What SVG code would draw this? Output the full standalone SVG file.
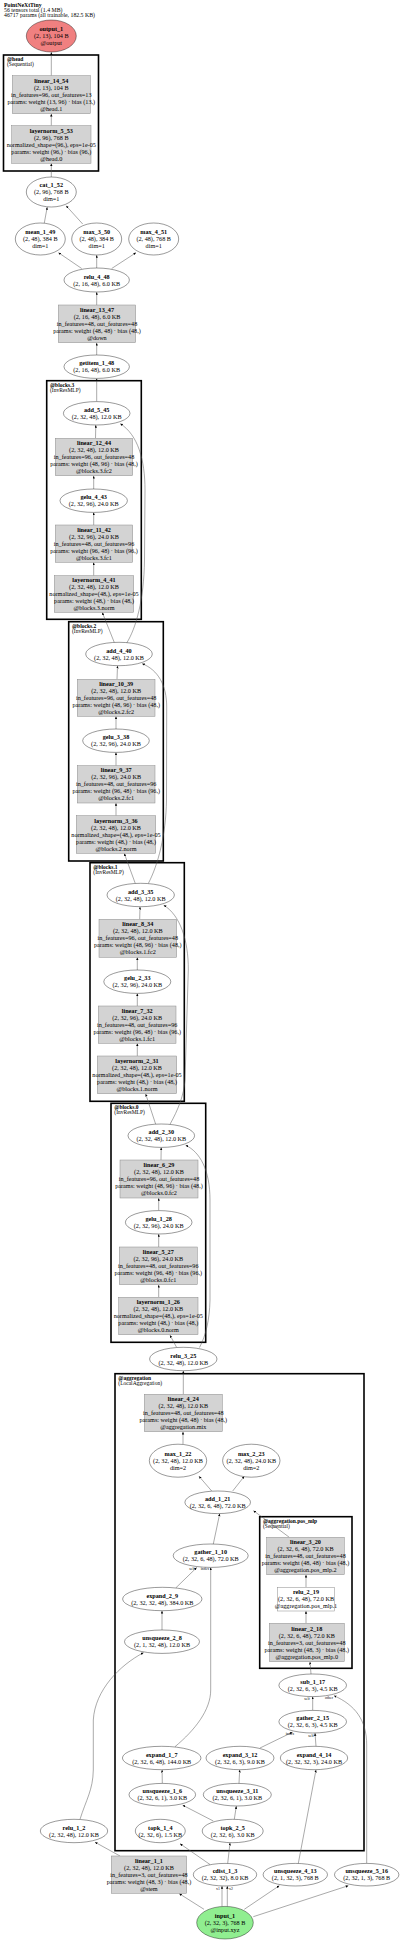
<svg xmlns="http://www.w3.org/2000/svg" width="400" height="1942" viewBox="0 0 400 1942">
<style>
text{font-family:"Liberation Serif","Times New Roman",serif;font-size:6.2px;fill:#000;text-anchor:middle}
.b{font-weight:bold}
.hd{font-size:5.5px;text-anchor:start}
.tt{font-size:5.8px}
.el{font-size:3.8px}
ellipse{fill:#fff;stroke:#000;stroke-width:0.4}
rect.m{fill:#d3d3d3;stroke:#8a8a8a;stroke-width:0.5}
rect.w{fill:#fff;stroke:#8a8a8a;stroke-width:0.5}
rect.c{fill:none;stroke:#000;stroke-width:1.6}
#edges path{fill:none;stroke:#555;stroke-width:0.5;marker-end:url(#ah)}
</style>
<defs>
<marker id="ah" markerUnits="userSpaceOnUse" markerWidth="4" markerHeight="4" refX="2.6" refY="1.2" orient="auto">
<path d="M0,0 L2.6,1.2 L0,2.4 Z" fill="#000"/>
</marker>
</defs>
<rect width="400" height="1942" fill="#fff"/>
<g id="title">
<text class="hd tt b" x="4" y="6.7">PointNeXtTiny</text>
<text class="hd tt" x="4" y="11.7">56 tensors total (1.4 MB)</text>
<text class="hd tt" x="4" y="16.7">46717 params (all trainable, 182.5 KB)</text>
</g>
<g id="clusters">
<g id="cl_head"><rect class="c" x="3.5" y="55" width="95" height="116"/><text class="hd b" x="7" y="61">@head</text><text class="hd" x="7" y="66">(Sequential)</text></g>
<g id="cl_blocks3"><rect class="c" x="46.7" y="380.7" width="94.6" height="238.6"/><text class="hd b" x="50" y="386.7">@blocks.3</text><text class="hd" x="50" y="391.7">(InvResMLP)</text></g>
<g id="cl_blocks2"><rect class="c" x="68.7" y="621.7" width="94.6" height="239.3"/><text class="hd b" x="72" y="627.7">@blocks.2</text><text class="hd" x="72" y="632.7">(InvResMLP)</text></g>
<g id="cl_blocks1"><rect class="c" x="90" y="862.7" width="94.3" height="238.6"/><text class="hd b" x="93.3" y="868.7">@blocks.1</text><text class="hd" x="93.3" y="873.7">(InvResMLP)</text></g>
<g id="cl_blocks0"><rect class="c" x="111" y="1103.3" width="94.7" height="239"/><text class="hd b" x="114.3" y="1109.3">@blocks.0</text><text class="hd" x="114.3" y="1114.3">(InvResMLP)</text></g>
<g id="cl_aggregation"><rect class="c" x="115" y="1373.7" width="249" height="477"/><text class="hd b" x="118.3" y="1379.7">@aggregation</text><text class="hd" x="118.3" y="1384.7">(LocalAggregation)</text></g>
<g id="cl_pos_mlp"><rect class="c" x="259.7" y="1516.7" width="92.3" height="151.6"/><text class="hd b" x="263" y="1522.7">@aggregation.pos_mlp</text><text class="hd" x="263" y="1527.7">(Sequential)</text></g>
</g>
<g id="edges">
<path d="M51.3 75.7 L51.3 52.3"/>
<path d="M51.3 125.7 L51.3 113.9"/>
<path d="M51.3 177 L51.3 163.5"/>
<path d="M44.3 223 L47.2 207.2"/>
<path d="M82.7 224 L66.2 205.8"/>
<path d="M81.7 268.5 L58.5 252.7"/>
<path d="M96.7 268 L96.7 255.2"/>
<path d="M111.7 268.5 L136 252.7"/>
<path d="M96.7 305 L96.7 292.2"/>
<path d="M96.7 355 L96.7 342.9"/>
<path d="M96.7 401.6 L96.7 378.6"/>
<path d="M95.5 438.3 L95.8 425.2"/>
<path d="M93.7 489 L93.7 475.9"/>
<path d="M93.7 525 L93.7 512.6"/>
<path d="M93.7 575.7 L93.7 562.5"/>
<path d="M114.3 642.5 L102.3 612.5"/>
<path d="M126.7 643 C136 628 144 600 144.5 560 L145 490 C145 460 138 435 120.3 423.7"/>
<path d="M117 679.3 L117.5 665.9"/>
<path d="M116 729 L116 716.5"/>
<path d="M116 765.7 L116 752.6"/>
<path d="M116 815.7 L116 803.2"/>
<path d="M135.3 883.5 L124.3 853.5"/>
<path d="M148.3 883.5 C158 865 166 835 166.5 800 L166.7 707 C166.7 685 158 670 142.2 663.7"/>
<path d="M139.7 919.3 L140 906.9"/>
<path d="M137.3 970 L137.3 957.5"/>
<path d="M137.3 1006 L137.3 993.6"/>
<path d="M137.3 1056 L137.3 1043.5"/>
<path d="M155.7 1124.3 L145.7 1094"/>
<path d="M170 1124.3 C178 1110 184 1095 185 1080 L188.3 970 C188.5 940 180 915 163.7 905.2"/>
<path d="M161 1160 L161.2 1147.6"/>
<path d="M158.7 1210.6 L158.7 1198.2"/>
<path d="M158.7 1247 L158.7 1234.2"/>
<path d="M158.7 1297.3 L158.7 1284.9"/>
<path d="M176.7 1347.5 L170 1335.2"/>
<path d="M199.5 1347.5 C206 1335 209.5 1320 210 1300 L210 1200 C210 1170 200 1152 185.7 1145.3"/>
<path d="M183.3 1394.3 L183.3 1370.9"/>
<path d="M183 1444.3 L183 1431.9"/>
<path d="M211.7 1491 L199 1476.3"/>
<path d="M232.7 1491 L244.3 1476.3"/>
<path d="M289.3 1537.3 L253.5 1510.7"/>
<path d="M213.3 1544 L219.7 1513.8"/>
<path d="M175.7 1588 L196.7 1567.6"/>
<path d="M175 1746.7 C195 1730 210.7 1710 210.7 1690 L210.7 1567.6"/>
<path d="M306 1587.3 L306 1574.9"/>
<path d="M306 1623.3 L306 1611.2"/>
<path d="M162 1630 L162 1610.9"/>
<path d="M311 1674 L310 1661.9"/>
<path d="M312.7 1710.4 L312.7 1696.8"/>
<path d="M260 1748 L292.5 1732.2"/>
<path d="M316 1746.3 L315 1733.2"/>
<path d="M80 1819.3 C86 1800 93 1790 93.3 1770 L93.3 1720 C95 1690 120 1665 143.5 1652.7"/>
<path d="M366.7 1863.4 L366.7 1745 C366.7 1720 355 1705 334 1695.7"/>
<path d="M162.3 1783.4 L162.1 1769.9"/>
<path d="M239 1783.4 L239.7 1769.9"/>
<path d="M298.3 1863.4 L316 1769.9"/>
<path d="M213.3 1821 L182.7 1805.2"/>
<path d="M234.3 1819.3 L236.3 1806.2"/>
<path d="M120 1856 L95 1842.2"/>
<path d="M210 1864.5 L180 1843.7"/>
<path d="M227.7 1863.4 L230 1842.9"/>
<path d="M222 1906.4 L222 1886.2"/>
<path d="M227.3 1906.4 L227.3 1886.2"/>
<path d="M204 1909.3 L179.3 1893.7"/>
<path d="M244.3 1909.3 L279.3 1885.7"/>
<path d="M253.3 1916.7 L348.3 1885.7"/>
<text class="el" x="192" y="1570">self</text>
<text class="el" x="205" y="1570">index</text>
<text class="el" x="307" y="1700">self</text>
<text class="el" x="329" y="1698.5">other</text>
<text class="el" x="290" y="1735">index</text>
<text class="el" x="311" y="1736.5">self</text>
<text class="el" x="218" y="1889.5">x1</text>
<text class="el" x="231" y="1889.5">x2</text>
</g>
<g id="output_1"><ellipse cx="51.3" cy="36" rx="25" ry="16" style="fill:#f08080"/><text class="b" x="51.3" y="31">output_1</text><text x="51.3" y="38">(2, 13), 104 B</text><text x="51.3" y="45">@output</text></g>
<g id="linear_14_54"><rect class="m" x="12.3" y="75.7" width="78" height="38"/><text class="b" x="51.3" y="82.5">linear_14_54</text><text x="51.3" y="89.5">(2, 13), 104 B</text><text x="51.3" y="96.5">in_features=96, out_features=13</text><text x="51.3" y="103.5">params: weight (13, 96) · bias (13,)</text><text x="51.3" y="110.5">@head.1</text></g>
<g id="layernorm_5_53"><rect class="m" x="11.7" y="125.7" width="79.3" height="37.6"/><text class="b" x="51.3" y="132.5">layernorm_5_53</text><text x="51.3" y="139.5">(2, 96), 768 B</text><text x="51.3" y="146.5">normalized_shape=(96,), eps=1e-05</text><text x="51.3" y="153.5">params: weight (96,) · bias (96,)</text><text x="51.3" y="160.5">@head.0</text></g>
<g id="cat_1_52"><ellipse cx="51.3" cy="192" rx="25" ry="15"/><text class="b" x="51.3" y="187">cat_1_52</text><text x="51.3" y="194">(2, 96), 768 B</text><text x="51.3" y="201">dim=1</text></g>
<g id="mean_1_49"><ellipse cx="40.3" cy="239" rx="25" ry="16"/><text class="b" x="40.3" y="234">mean_1_49</text><text x="40.3" y="241">(2, 48), 384 B</text><text x="40.3" y="248">dim=1</text></g>
<g id="max_3_50"><ellipse cx="96.7" cy="239" rx="25" ry="16"/><text class="b" x="96.7" y="234">max_3_50</text><text x="96.7" y="241">(2, 48), 384 B</text><text x="96.7" y="248">dim=1</text></g>
<g id="max_4_51"><ellipse cx="153.7" cy="239" rx="25" ry="16"/><text class="b" x="153.7" y="234">max_4_51</text><text x="153.7" y="241">(2, 48), 768 B</text><text x="153.7" y="248">dim=1</text></g>
<g id="relu_4_48"><ellipse cx="96.7" cy="280" rx="32.7" ry="12"/><text class="b" x="96.7" y="278.5">relu_4_48</text><text x="96.7" y="285.5">(2, 16, 48), 6.0 KB</text></g>
<g id="linear_13_47"><rect class="m" x="58.3" y="305" width="77.4" height="37.7"/><text class="b" x="97" y="311.8">linear_13_47</text><text x="97" y="318.8">(2, 16, 48), 6.0 KB</text><text x="97" y="325.8">in_features=48, out_features=48</text><text x="97" y="332.8">params: weight (48, 48) · bias (48,)</text><text x="97" y="339.8">@down</text></g>
<g id="getitem_1_48"><ellipse cx="96.7" cy="366.7" rx="32.7" ry="11.7"/><text class="b" x="96.7" y="365.2">getitem_1_48</text><text x="96.7" y="372.2">(2, 16, 48), 6.0 KB</text></g>
<g id="add_5_45"><ellipse cx="96.7" cy="413.3" rx="33.3" ry="11.7"/><text class="b" x="96.7" y="411.8">add_5_45</text><text x="96.7" y="418.8">(2, 32, 48), 12.0 KB</text></g>
<g id="linear_12_44"><rect class="m" x="55.3" y="438.3" width="77.4" height="37.4"/><text class="b" x="94" y="445">linear_12_44</text><text x="94" y="452">(2, 32, 48), 12.0 KB</text><text x="94" y="459">in_features=96, out_features=48</text><text x="94" y="466">params: weight (48, 96) · bias (48,)</text><text x="94" y="473">@blocks.3.fc2</text></g>
<g id="gelu_4_43"><ellipse cx="93.7" cy="500.7" rx="33.7" ry="11.7"/><text class="b" x="93.7" y="499.2">gelu_4_43</text><text x="93.7" y="506.2">(2, 32, 96), 24.0 KB</text></g>
<g id="linear_11_42"><rect class="m" x="55.3" y="525" width="77.4" height="37.3"/><text class="b" x="94" y="531.7">linear_11_42</text><text x="94" y="538.7">(2, 32, 96), 24.0 KB</text><text x="94" y="545.7">in_features=48, out_features=96</text><text x="94" y="552.7">params: weight (96, 48) · bias (96,)</text><text x="94" y="559.7">@blocks.3.fc1</text></g>
<g id="layernorm_4_41"><rect class="m" x="54.3" y="575.7" width="79.4" height="36.6"/><text class="b" x="94" y="582">layernorm_4_41</text><text x="94" y="589">(2, 32, 48), 12.0 KB</text><text x="94" y="596">normalized_shape=(48,), eps=1e-05</text><text x="94" y="603">params: weight (48,) · bias (48,)</text><text x="94" y="610">@blocks.3.norm</text></g>
<g id="add_4_40"><ellipse cx="119" cy="654" rx="33.3" ry="11.7"/><text class="b" x="119" y="652.5">add_4_40</text><text x="119" y="659.5">(2, 32, 48), 12.0 KB</text></g>
<g id="linear_10_39"><rect class="m" x="77.3" y="679.3" width="77.7" height="37"/><text class="b" x="116.2" y="685.8">linear_10_39</text><text x="116.2" y="692.8">(2, 32, 48), 12.0 KB</text><text x="116.2" y="699.8">in_features=96, out_features=48</text><text x="116.2" y="706.8">params: weight (48, 96) · bias (48,)</text><text x="116.2" y="713.8">@blocks.2.fc2</text></g>
<g id="gelu_3_38"><ellipse cx="116" cy="740.7" rx="33.3" ry="11.7"/><text class="b" x="116" y="739.2">gelu_3_38</text><text x="116" y="746.2">(2, 32, 96), 24.0 KB</text></g>
<g id="linear_9_37"><rect class="m" x="77.3" y="765.7" width="77.7" height="37.3"/><text class="b" x="116.2" y="772.3">linear_9_37</text><text x="116.2" y="779.3">(2, 32, 96), 24.0 KB</text><text x="116.2" y="786.3">in_features=48, out_features=96</text><text x="116.2" y="793.3">params: weight (96, 48) · bias (96,)</text><text x="116.2" y="800.3">@blocks.2.fc1</text></g>
<g id="layernorm_3_36"><rect class="m" x="76.3" y="815.7" width="79.4" height="37.6"/><text class="b" x="116" y="822.5">layernorm_3_36</text><text x="116" y="829.5">(2, 32, 48), 12.0 KB</text><text x="116" y="836.5">normalized_shape=(48,), eps=1e-05</text><text x="116" y="843.5">params: weight (48,) · bias (48,)</text><text x="116" y="850.5">@blocks.2.norm</text></g>
<g id="add_3_35"><ellipse cx="140.7" cy="895" rx="33.7" ry="11.7"/><text class="b" x="140.7" y="893.5">add_3_35</text><text x="140.7" y="900.5">(2, 32, 48), 12.0 KB</text></g>
<g id="linear_8_34"><rect class="m" x="99" y="919.3" width="77.7" height="38"/><text class="b" x="137.8" y="926.3">linear_8_34</text><text x="137.8" y="933.3">(2, 32, 48), 12.0 KB</text><text x="137.8" y="940.3">in_features=96, out_features=48</text><text x="137.8" y="947.3">params: weight (48, 96) · bias (48,)</text><text x="137.8" y="954.3">@blocks.1.fc2</text></g>
<g id="gelu_2_33"><ellipse cx="137.3" cy="981.7" rx="33.5" ry="11.7"/><text class="b" x="137.3" y="980.2">gelu_2_33</text><text x="137.3" y="987.2">(2, 32, 96), 24.0 KB</text></g>
<g id="linear_7_32"><rect class="m" x="98.3" y="1006" width="77.7" height="37.3"/><text class="b" x="137.2" y="1012.7">linear_7_32</text><text x="137.2" y="1019.7">(2, 32, 96), 24.0 KB</text><text x="137.2" y="1026.7">in_features=48, out_features=96</text><text x="137.2" y="1033.7">params: weight (96, 48) · bias (96,)</text><text x="137.2" y="1040.7">@blocks.1.fc1</text></g>
<g id="layernorm_2_31"><rect class="m" x="97.3" y="1056" width="79.4" height="37.7"/><text class="b" x="137" y="1062.8">layernorm_2_31</text><text x="137" y="1069.8">(2, 32, 48), 12.0 KB</text><text x="137" y="1076.8">normalized_shape=(48,), eps=1e-05</text><text x="137" y="1083.8">params: weight (48,) · bias (48,)</text><text x="137" y="1090.8">@blocks.1.norm</text></g>
<g id="add_2_30"><ellipse cx="161.3" cy="1135.7" rx="33.3" ry="11.7"/><text class="b" x="161.3" y="1134.2">add_2_30</text><text x="161.3" y="1141.2">(2, 32, 48), 12.0 KB</text></g>
<g id="linear_6_29"><rect class="m" x="120" y="1160" width="78" height="38"/><text class="b" x="159" y="1167">linear_6_29</text><text x="159" y="1174">(2, 32, 48), 12.0 KB</text><text x="159" y="1181">in_features=96, out_features=48</text><text x="159" y="1188">params: weight (48, 96) · bias (48,)</text><text x="159" y="1195">@blocks.0.fc2</text></g>
<g id="gelu_1_28"><ellipse cx="158.7" cy="1222.3" rx="33.3" ry="11.7"/><text class="b" x="158.7" y="1220.8">gelu_1_28</text><text x="158.7" y="1227.8">(2, 32, 96), 24.0 KB</text></g>
<g id="linear_5_27"><rect class="m" x="119.3" y="1247" width="78" height="37.7"/><text class="b" x="158.3" y="1253.8">linear_5_27</text><text x="158.3" y="1260.8">(2, 32, 96), 24.0 KB</text><text x="158.3" y="1267.8">in_features=48, out_features=96</text><text x="158.3" y="1274.8">params: weight (96, 48) · bias (96,)</text><text x="158.3" y="1281.8">@blocks.0.fc1</text></g>
<g id="layernorm_1_26"><rect class="m" x="118.7" y="1297.3" width="79.3" height="37.4"/><text class="b" x="158.3" y="1304">layernorm_1_26</text><text x="158.3" y="1311">(2, 32, 48), 12.0 KB</text><text x="158.3" y="1318">normalized_shape=(48,), eps=1e-05</text><text x="158.3" y="1325">params: weight (48,) · bias (48,)</text><text x="158.3" y="1332">@blocks.0.norm</text></g>
<g id="relu_3_25"><ellipse cx="183.3" cy="1359" rx="33.7" ry="11.7"/><text class="b" x="183.3" y="1357.5">relu_3_25</text><text x="183.3" y="1364.5">(2, 32, 48), 12.0 KB</text></g>
<g id="linear_4_24"><rect class="m" x="144.3" y="1394.3" width="78" height="37.4"/><text class="b" x="183.3" y="1401">linear_4_24</text><text x="183.3" y="1408">(2, 32, 48), 12.0 KB</text><text x="183.3" y="1415">in_features=48, out_features=48</text><text x="183.3" y="1422">params: weight (48, 48) · bias (48,)</text><text x="183.3" y="1429">@aggregation.mix</text></g>
<g id="max_1_22"><ellipse cx="178" cy="1460.7" rx="28.7" ry="16.5"/><text class="b" x="178" y="1455.7">max_1_22</text><text x="178" y="1462.7">(2, 32, 48), 12.0 KB</text><text x="178" y="1469.7">dim=2</text></g>
<g id="max_2_23"><ellipse cx="251.3" cy="1460.7" rx="28.7" ry="16.5"/><text class="b" x="251.3" y="1455.7">max_2_23</text><text x="251.3" y="1462.7">(2, 32, 48), 24.0 KB</text><text x="251.3" y="1469.7">dim=2</text></g>
<g id="add_1_21"><ellipse cx="217.7" cy="1502.3" rx="32.8" ry="11.3"/><text class="b" x="217.7" y="1500.8">add_1_21</text><text x="217.7" y="1507.8">(2, 32, 6, 48), 72.0 KB</text></g>
<g id="linear_3_20"><rect class="m" x="266.7" y="1537.3" width="77.6" height="37.4"/><text class="b" x="305.5" y="1544">linear_3_20</text><text x="305.5" y="1551">(2, 32, 6, 48), 72.0 KB</text><text x="305.5" y="1558">in_features=48, out_features=48</text><text x="305.5" y="1565">params: weight (48, 48) · bias (48,)</text><text x="305.5" y="1572">@aggregation.pos_mlp.2</text></g>
<g id="gather_1_10"><ellipse cx="210.7" cy="1555.7" rx="37.5" ry="11.7"/><text class="b" x="210.7" y="1554.2">gather_1_10</text><text x="210.7" y="1561.2">(2, 32, 6, 48), 72.0 KB</text></g>
<g id="expand_2_9"><ellipse cx="162.3" cy="1599" rx="39.7" ry="11.7"/><text class="b" x="162.3" y="1597.5">expand_2_9</text><text x="162.3" y="1604.5">(2, 32, 32, 48), 384.0 KB</text></g>
<g id="relu_2_19"><rect class="w" x="277.7" y="1587.3" width="56.6" height="23.7"/><text class="b" x="306" y="1594.2">relu_2_19</text><text x="306" y="1601.2">(2, 32, 6, 48), 72.0 KB</text><text x="306" y="1608.2">@aggregation.pos_mlp.1</text></g>
<g id="linear_2_18"><rect class="m" x="269.3" y="1623.3" width="75" height="38.4"/><text class="b" x="306.8" y="1630.5">linear_2_18</text><text x="306.8" y="1637.5">(2, 32, 6, 48), 72.0 KB</text><text x="306.8" y="1644.5">in_features=3, out_features=48</text><text x="306.8" y="1651.5">params: weight (48, 3) · bias (48,)</text><text x="306.8" y="1658.5">@aggregation.pos_mlp.0</text></g>
<g id="unsqueeze_2_8"><ellipse cx="162" cy="1641.7" rx="37.5" ry="11.7"/><text class="b" x="162" y="1640.2">unsqueeze_2_8</text><text x="162" y="1647.2">(2, 1, 32, 48), 12.0 KB</text></g>
<g id="sub_1_17"><ellipse cx="312.7" cy="1685.3" rx="33.8" ry="11.3"/><text class="b" x="312.7" y="1683.8">sub_1_17</text><text x="312.7" y="1690.8">(2, 32, 6, 3), 4.5 KB</text></g>
<g id="gather_2_15"><ellipse cx="312.7" cy="1721.7" rx="33.8" ry="11.3"/><text class="b" x="312.7" y="1720.2">gather_2_15</text><text x="312.7" y="1727.2">(2, 32, 6, 3), 4.5 KB</text></g>
<g id="expand_1_7"><ellipse cx="161.7" cy="1758" rx="39.3" ry="11.7"/><text class="b" x="161.7" y="1756.5">expand_1_7</text><text x="161.7" y="1763.5">(2, 32, 6, 48), 144.0 KB</text></g>
<g id="expand_3_12"><ellipse cx="240" cy="1758" rx="34" ry="11.7"/><text class="b" x="240" y="1756.5">expand_3_12</text><text x="240" y="1763.5">(2, 32, 6, 3), 9.0 KB</text></g>
<g id="expand_4_14"><ellipse cx="314" cy="1758" rx="33.7" ry="11.7"/><text class="b" x="314" y="1756.5">expand_4_14</text><text x="314" y="1763.5">(2, 32, 32, 3), 24.0 KB</text></g>
<g id="unsqueeze_1_6"><ellipse cx="162.3" cy="1794.7" rx="33.3" ry="11.3"/><text class="b" x="162.3" y="1793.2">unsqueeze_1_6</text><text x="162.3" y="1800.2">(2, 32, 6, 1), 3.0 KB</text></g>
<g id="unsqueeze_3_11"><ellipse cx="237.3" cy="1794.7" rx="34" ry="11.3"/><text class="b" x="237.3" y="1793.2">unsqueeze_3_11</text><text x="237.3" y="1800.2">(2, 32, 6, 1), 3.0 KB</text></g>
<g id="topk_1_4"><ellipse cx="160.3" cy="1831" rx="25" ry="11.7"/><text class="b" x="160.3" y="1829.5">topk_1_4</text><text x="160.3" y="1836.5">(2, 32, 6), 1.5 KB</text></g>
<g id="topk_2_5"><ellipse cx="232.7" cy="1831" rx="30.5" ry="11.7"/><text class="b" x="232.7" y="1829.5">topk_2_5</text><text x="232.7" y="1836.5">(2, 32, 6), 3.0 KB</text></g>
<g id="relu_1_2"><ellipse cx="74" cy="1831" rx="33.7" ry="11.7"/><text class="b" x="74" y="1829.5">relu_1_2</text><text x="74" y="1836.5">(2, 32, 48), 12.0 KB</text></g>
<g id="linear_1_1"><rect class="m" x="111.3" y="1856" width="75.4" height="37.3"/><text class="b" x="149" y="1862.7">linear_1_1</text><text x="149" y="1869.7">(2, 32, 48), 12.0 KB</text><text x="149" y="1876.7">in_features=3, out_features=48</text><text x="149" y="1883.7">params: weight (48, 3) · bias (48,)</text><text x="149" y="1890.7">@stem</text></g>
<g id="cdist_1_3"><ellipse cx="225" cy="1874.7" rx="31.7" ry="11.3"/><text class="b" x="225" y="1873.2">cdist_1_3</text><text x="225" y="1880.2">(2, 32, 32), 8.0 KB</text></g>
<g id="unsqueeze_4_13"><ellipse cx="295.3" cy="1874.7" rx="32.2" ry="11.3"/><text class="b" x="295.3" y="1873.2">unsqueeze_4_13</text><text x="295.3" y="1880.2">(2, 1, 32, 3), 768 B</text></g>
<g id="unsqueeze_5_16"><ellipse cx="366.7" cy="1874.7" rx="32.2" ry="11.3"/><text class="b" x="366.7" y="1873.2">unsqueeze_5_16</text><text x="366.7" y="1880.2">(2, 32, 1, 3), 768 B</text></g>
<g id="input_1"><ellipse cx="225" cy="1922.7" rx="28.3" ry="16.3" style="fill:#90ee90"/><text class="b" x="225" y="1917.7">input_1</text><text x="225" y="1924.7">(2, 32, 3), 768 B</text><text x="225" y="1931.7">@input.xyz</text></g>
</svg>
